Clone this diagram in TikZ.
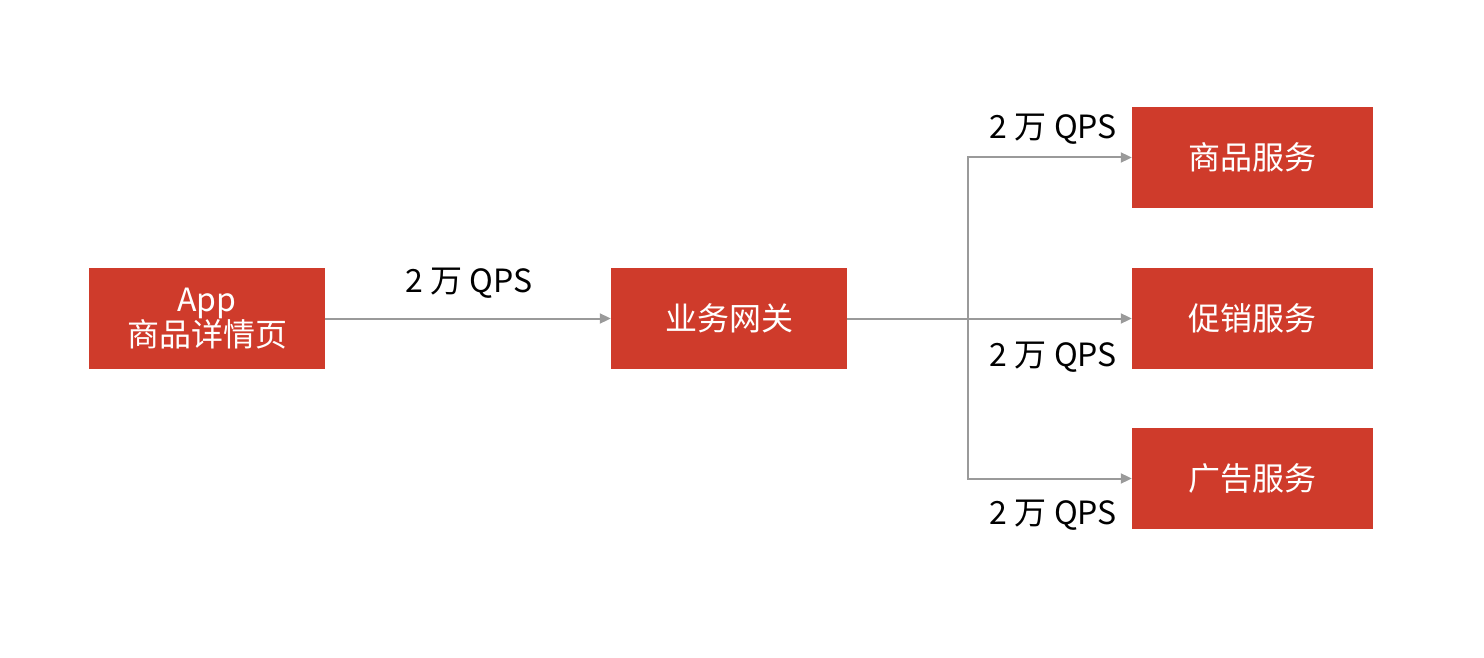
\documentclass[tikz,border=0pt]{standalone}
\usepackage{fontspec}
\setmainfont{Noto Sans CJK SC}
\usetikzlibrary{arrows.meta}
\definecolor{boxred}{HTML}{CF3B2B}
\definecolor{linegray}{HTML}{9A9A9A}
\begin{document}
\begin{tikzpicture}[x=1pt,y=-1pt,
  box/.style={fill=boxred,draw=none,text=white,minimum width=236pt,minimum height=101pt,inner sep=0pt,align=center,font=\fontsize{32pt}{35pt}\selectfont},
  sbox/.style={box,minimum width=241pt},
  lbl/.style={inner sep=0pt,font=\fontsize{32pt}{36pt}\selectfont},
  conn/.style={draw=linegray,line width=2pt,-{Triangle[length=11pt,width=10pt]}}]
\useasboundingbox (0,0) rectangle (1484,658);
\node[box] (app) at (207,318.5) {App\\商品详情页};
\node[box] (gw) at (729,318.5) {业务网关};
\node[sbox] (s1) at (1252.5,157.5) {商品服务};
\node[sbox] (s2) at (1252.5,318.5) {促销服务};
\node[sbox] (s3) at (1252.5,478.5) {广告服务};
\coordinate (br) at (968,318.5);
\draw[conn] (app) -- (gw);
\draw[conn] (gw) -- (s2);
\draw[conn] (br) |- (s1);
\draw[conn] (br) |- (s3);
\node[lbl,anchor=center] (l0) at (469,283) {2 万 QPS};
\node[lbl,anchor=east] (l1) at (1117,129) {2 万 QPS};
\node[lbl,anchor=east] (l2) at (1117,357) {2 万 QPS};
\node[lbl,anchor=east] (l3) at (1117,515) {2 万 QPS};
\end{tikzpicture}
\end{document}
